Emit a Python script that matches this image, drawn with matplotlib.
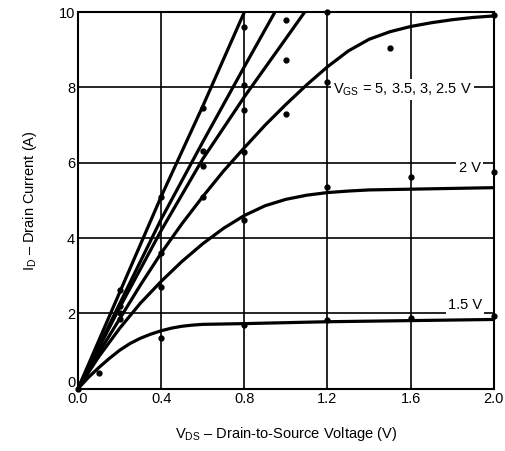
import matplotlib
matplotlib.use("Agg")
import matplotlib.pyplot as plt
import matplotlib.transforms as mtransforms

plt.rcParams['font.family'] = ['Liberation Sans', 'DejaVu Sans']
plt.rcParams['mathtext.fontset'] = 'custom'
plt.rcParams['mathtext.rm'] = 'Liberation Sans'
plt.rcParams['mathtext.it'] = 'Liberation Sans'

# fitted curves
x_5v = [0, 0.2, 0.4, 0.6, 0.8]
y_5v = [0, 2.55, 5.1, 7.5, 10.0]
x_35v = [0, 0.2, 0.4, 0.6, 0.8, 0.947]
y_35v = [0, 2.25, 4.5, 6.55, 8.55, 10.0]
x_3v = [0, 0.2, 0.4, 0.6, 0.8, 1.0, 1.09]
y_3v = [0, 2.15, 4.2, 6.1, 7.75, 9.3, 10.0]
x_25v = [0, 0.1, 0.2, 0.3, 0.4, 0.5, 0.6, 0.7, 0.8, 0.9, 1.0, 1.1, 1.2,
         1.3, 1.4, 1.5, 1.6, 1.7, 1.8, 1.9, 2.0]
y_25v = [0, 0.95, 1.85, 2.75, 3.6, 4.38, 5.1, 5.78, 6.4, 7.0, 7.55, 8.07, 8.55,
         8.97, 9.28, 9.48, 9.62, 9.72, 9.8, 9.86, 9.9]
x_2v = [0, 0.1, 0.2, 0.3, 0.4, 0.5, 0.6, 0.7, 0.8, 0.9, 1.0, 1.1, 1.2, 1.3,
        1.4, 1.6, 1.8, 2.0]
y_2v = [0, 0.85, 1.6, 2.27, 2.85, 3.38, 3.85, 4.26, 4.6, 4.86, 5.03, 5.14, 5.21, 5.25,
        5.28, 5.3, 5.32, 5.34]
x_15v = [0, 0.05, 0.1, 0.15, 0.2, 0.25, 0.3, 0.35, 0.4, 0.45, 0.5, 0.55, 0.6,
         0.7, 0.8, 1.2, 1.6, 2.0]
y_15v = [0, 0.3, 0.56, 0.8, 1.02, 1.2, 1.34, 1.45, 1.54, 1.61, 1.66, 1.69, 1.71,
         1.72, 1.73, 1.78, 1.81, 1.84]

# measured points
px_5v = [0.2, 0.4, 0.6, 0.8]
py_5v = [2.62, 5.1, 7.45, 9.6]
px_35v = [0.2, 0.6, 0.8, 1.0]
py_35v = [2.2, 6.32, 8.06, 9.8]
px_3v = [0.2, 0.6, 0.8, 1.0, 1.2]
py_3v = [2.0, 5.91, 7.4, 8.73, 10.0]
px_25v = [0.2, 0.4, 0.6, 0.8, 1.0, 1.2, 1.5, 2.0]
py_25v = [1.85, 3.6, 5.1, 6.3, 7.3, 8.15, 9.05, 9.92]
px_2v = [0.4, 0.8, 1.2, 1.6, 2.0]
py_2v = [2.7, 4.48, 5.36, 5.63, 5.76]
px_15v = [0, 0.1, 0.4, 0.8, 1.2, 1.6, 2.0]
py_15v = [0, 0.42, 1.34, 1.7, 1.83, 1.87, 1.92]

xticks = [0.0, 0.4, 0.8, 1.2, 1.6, 2.0]
yticks = [0, 2, 4, 6, 8, 10]

fig = plt.figure(figsize=(5.06, 4.51), dpi=100)
ax = fig.add_axes([0.154, 0.138, 0.822, 0.835])

for xs, ys in [(x_5v, y_5v), (x_35v, y_35v), (x_3v, y_3v),
               (x_25v, y_25v), (x_2v, y_2v), (x_15v, y_15v)]:
    ax.plot(xs, ys, color='black', lw=2.3, solid_capstyle='round',
            solid_joinstyle='round', zorder=3)

for xs, ys in [(px_5v, py_5v), (px_35v, py_35v), (px_3v, py_3v),
               (px_25v, py_25v), (px_2v, py_2v), (px_15v, py_15v)]:
    ax.plot(xs, ys, 'o', color='black', ms=3.5, clip_on=False, zorder=4)

ax.set_xlim(0, 2.0)
ax.set_ylim(0, 10)
ax.set_xticks(xticks)
ax.set_xticklabels(['%.1f' % v for v in xticks])
ax.set_yticks(yticks)
ax.tick_params(length=0, labelsize=10.5, pad=2)
ax.grid(True, color='black', lw=1.2)
ax.set_axisbelow(True)
for s in ax.spines.values():
    s.set_linewidth(1.5)

# lift the "0" on the y axis a little so it clears the "0.0" below it
lbl0 = ax.get_yticklabels()[0]
lbl0.set_transform(lbl0.get_transform() +
                   mtransforms.ScaledTranslation(0, 5 / 72, fig.dpi_scale_trans))

box = dict(facecolor='white', edgecolor='none', pad=1.5)
ax.text(1.225, 7.95, r'V$_\mathrm{GS}$ = 5, 3.5, 3, 2.5 V', fontsize=10.5,
        va='center', ha='left', bbox=box, zorder=2.5)
ax.text(1.83, 5.87, '2 V', fontsize=10.5, va='center', ha='left', bbox=box, zorder=2.5)
ax.text(1.78, 2.22, '1.5 V', fontsize=10.5, va='center', ha='left', bbox=box, zorder=2.5)

ax.set_xlabel(r'V$_\mathrm{DS}$ – Drain-to-Source Voltage (V)', fontsize=10.5, labelpad=14)
ax.set_ylabel(r'I$_\mathrm{D}$ – Drain Current (A)', fontsize=10.5, labelpad=14)

fig.savefig('out.png', dpi=100)
